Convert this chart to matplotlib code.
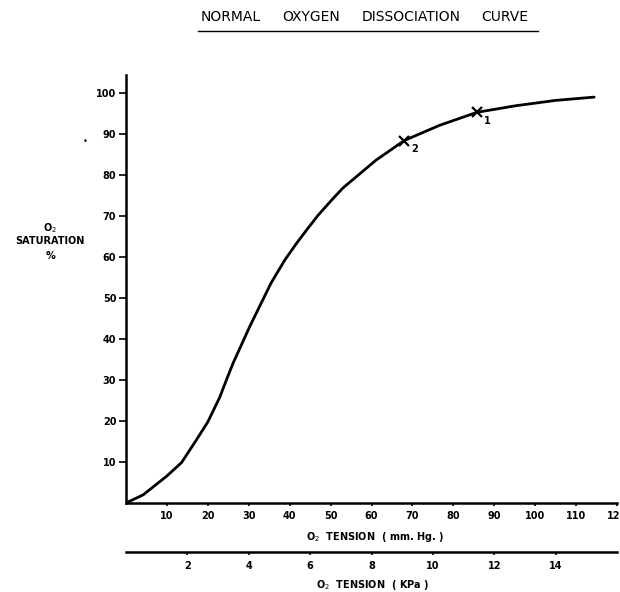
import matplotlib
matplotlib.use("Agg")
import matplotlib.pyplot as plt
import numpy as np

# Data
po2_mmhg = [0, 4.2, 10, 13.6, 17.2, 20, 22.9, 24.6, 26.2, 30.2, 32.7, 35.5, 38.8,
            41.6, 44.1, 46.9, 50.2, 53, 61.1, 68, 76.6, 85.8, 95.3, 105, 114.4]
sat_pct = [0, 2, 6.6, 9.9, 15.4, 19.8, 25.8, 30.2, 34.2, 43, 48.1, 53.8, 59.3,
           63.3, 66.6, 70.2, 73.9, 76.9, 83.7, 88.5, 92.2, 95.4, 97, 98.3, 99.1]
marker_x = [85.8, 68]
marker_y = [95.4, 88.5]
marker_labels = ["1", "2"]
x_ticks_mmhg = [10, 20, 30, 40, 50, 60, 70, 80, 90, 100, 110, 120]
y_ticks = [10, 20, 30, 40, 50, 60, 70, 80, 90, 100]
x_ticks_kpa = [2, 4, 6, 8, 10, 12, 14]
title_words = ["NORMAL", "OXYGEN", "DISSOCIATION", "CURVE"]

W, H = 620, 592
fig = plt.figure(figsize=(W / 100, H / 100), dpi=100)
plt.rcParams['font.family'] = ['DejaVu Sans']

def fx(px):
    return px / W

def fy(py):
    return 1 - py / H

# main axes: x 0..120 from px 126..617, y 0..104.5 from py 503..75
ax = fig.add_axes([fx(126), fy(503), fx(617) - fx(126), fy(75) - fy(503)])
ax.set_xlim(0, 120)
ax.set_ylim(0, 104.5)
ax.plot(po2_mmhg, sat_pct, color='black', lw=2.0, solid_capstyle='round',
        solid_joinstyle='round')
ax.plot(marker_x, marker_y, linestyle='none', marker='x', color='black',
        markersize=7, markeredgewidth=1.6)
for mx, my, lab in zip(marker_x, marker_y, marker_labels):
    ax.annotate(lab, (mx, my), xytext=(5, -6), textcoords='offset points',
                fontsize=7, fontweight='bold', ha='left', va='center')

for s in ['top', 'right']:
    ax.spines[s].set_visible(False)
for s in ['left', 'bottom']:
    ax.spines[s].set_linewidth(1.8)
ax.set_xticks(x_ticks_mmhg)
ax.set_yticks(y_ticks)
ax.set_xticklabels([str(t) for t in x_ticks_mmhg])
ax.set_yticklabels([str(t) for t in y_ticks])
ax.tick_params(axis='x', direction='out', length=2.5, width=1.2, pad=3,
               labelsize=7)
ax.tick_params(axis='y', direction='out', length=5, width=1.2, pad=2,
               labelsize=7)
for lab in ax.get_xticklabels() + ax.get_yticklabels():
    lab.set_fontweight('bold')

# kPa axis
ax2 = fig.add_axes([fx(126), fy(552), fx(617) - fx(126), 0.0001])
ax2.set_xlim(0, 16)
ax2.set_ylim(0, 1)
for s in ['top', 'right', 'left']:
    ax2.spines[s].set_visible(False)
ax2.spines['bottom'].set_linewidth(1.8)
ax2.set_yticks([])
ax2.set_xticks(x_ticks_kpa)
ax2.set_xticklabels([str(t) for t in x_ticks_kpa])
ax2.tick_params(axis='x', direction='out', length=2.5, width=1.2, pad=4,
                labelsize=7)
for lab in ax2.get_xticklabels():
    lab.set_fontweight('bold')
ax2.patch.set_visible(False)

# axis labels
fig.text(fx(375), fy(537), r"O$_2$  TENSION  ( mm. Hg. )", ha='center', va='center',
         fontsize=7, fontweight='bold')
fig.text(fx(373), fy(585), r"O$_2$  TENSION  ( KPa )", ha='center', va='center',
         fontsize=7, fontweight='bold')
fig.text(fx(50), fy(228), r"O$_2$", ha='center', va='center', fontsize=7,
         fontweight='bold')
fig.text(fx(50), fy(241), "SATURATION", ha='center', va='center', fontsize=7,
         fontweight='bold')
fig.text(fx(50), fy(256), "%", ha='center', va='center', fontsize=7,
         fontweight='bold')

# title with underline (words placed as in the reference)
word_centres = [231, 311, 411, 505]
for w, cx in zip(title_words, word_centres):
    fig.text(fx(cx), fy(17), w, ha='center', va='center', fontsize=10)
fig.add_artist(plt.Line2D([fx(198), fx(538)], [fy(31), fy(31)], color='black',
                          lw=1.0, transform=fig.transFigure))

# stray dot present in reference
fig.text(fx(85), fy(141), "•", ha='center', va='center', fontsize=6)

fig.savefig("out.png", dpi=100)
